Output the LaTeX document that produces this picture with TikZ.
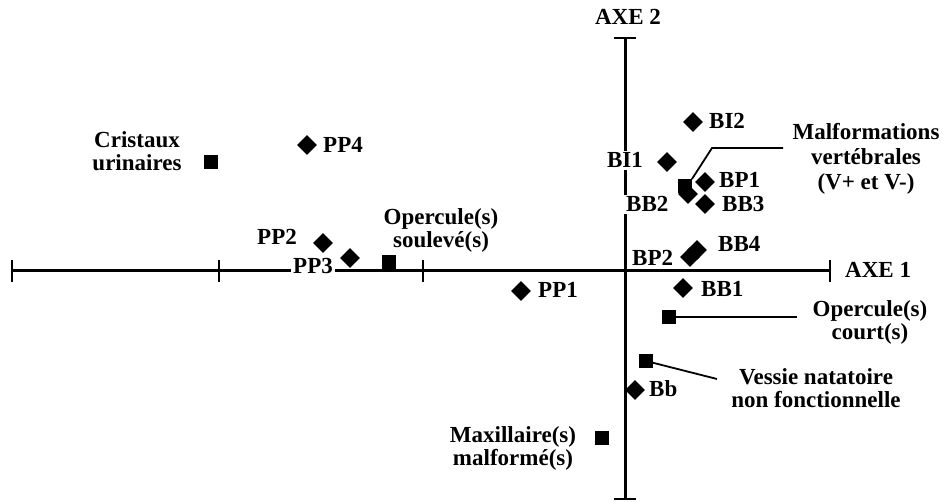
\documentclass[tikz,border=0pt]{standalone}
\usepackage{fontspec}
\setmainfont{Liberation Serif}
\usetikzlibrary{shapes.geometric}
\tikzset{
  axisline/.style={line width=3pt},
  tickline/.style={line width=2.8pt},
  callout/.style={line width=1.8pt},
  dmark/.style={diamond, fill=black, inner sep=0pt, minimum width=20pt, minimum height=20pt},
  smark/.style={rectangle, fill=black, inner sep=0pt, minimum size=13.5pt},
  lbl/.style={font=\fontsize{23}{23}\selectfont\bfseries, inner sep=1pt},
  mlbl/.style={lbl, align=center},
  wlbl/.style={lbl, fill=white, inner sep=2pt}
}
\begin{document}
\begin{tikzpicture}[x=1pt,y=-1pt]
\useasboundingbox[fill=white] (0,0) rectangle (946,502);
% axes
\coordinate (xL) at (12,271);
\coordinate (xR) at (830,271);
\coordinate (yT) at (625,38);
\coordinate (yB) at (625,499);
\coordinate (t1) at (219,271);
\coordinate (t2) at (423,271);
\draw[axisline] (xL) -- (xR);
\draw[axisline] (yT) -- (yB);
\foreach \c in {xL,xR,t1,t2} \draw[tickline] ([yshift=11pt]\c) -- ([yshift=-11pt]\c);
\foreach \c in {yT,yB} \draw[tickline] ([xshift=-11pt]\c) -- ([xshift=11pt]\c);
\node[lbl, anchor=base] (axe2) at (628,25) {AXE 2};
\node[lbl, anchor=base west] (axe1) at (844,278) {AXE 1};
% labels that cut the axes
\node[wlbl, anchor=base east] (lBI1) at (645,168) {BI1};
\node[wlbl, anchor=base west] (lBB2) at (624,212) {BB2};
\node[wlbl, anchor=base west] (lPP3) at (291,274) {PP3};
% point labels
\node[lbl, anchor=base west] (lBI2) at (708,129) {BI2};
\node[lbl, anchor=base west] (lBP1) at (718,188) {BP1};
\node[lbl, anchor=base west] (lBB3) at (721,212) {BB3};
\node[lbl, anchor=base west] (lBB4) at (717,252) {BB4};
\node[lbl, anchor=base west] (lBP2) at (631,266) {BP2};
\node[lbl, anchor=base west] (lBB1) at (700,297) {BB1};
\node[lbl, anchor=base west] (lPP1) at (537,298) {PP1};
\node[lbl, anchor=base west] (lPP4) at (322,153) {PP4};
\node[lbl, anchor=base east] (lPP2) at (298,245) {PP2};
\node[lbl, anchor=base west] (lBb) at (648,397) {Bb};
% diamonds
\node[dmark] (BI2) at (693,122) {};
\node[dmark] (BI1) at (667,162) {};
\node[dmark] (BP1) at (705,182) {};
\node[dmark] (BB3) at (705,204) {};
\node[dmark] (BB2) at (688,194) {};
\node[dmark] (BB4) at (697,250) {};
\node[dmark] (BP2) at (690,257) {};
\node[dmark] (BB1) at (683,288) {};
\node[dmark] (PP1) at (521,291) {};
\node[dmark] (PP4) at (307,145) {};
\node[dmark] (PP2) at (323,243) {};
\node[dmark] (PP3) at (350,258) {};
\node[dmark] (Bb) at (635,390) {};
% squares
\node[smark] (cristaux) at (211,162) {};
\node[smark] (soul) at (389,262) {};
\node[smark] (malf) at (685,186) {};
\node[smark] (court) at (669,317) {};
\node[smark] (vessie) at (646,361) {};
\node[smark] (maxil) at (602,438) {};
% square labels
\node[mlbl] (tcristaux) at (137,151) {Cristaux\\urinaires};
\node[mlbl] (tsoul) at (441,230) {Opercule(s)\\soulevé(s)};
\node[mlbl, font=\fontsize{23}{25}\selectfont\bfseries] (tmalf) at (866,159) {Malformations\\vertébrales\\(V+ et V-)};
\node[mlbl] (tcourt) at (870,322) {Opercule(s)\\court(s)};
\node[mlbl] (tvessie) at (816,388) {Vessie natatoire\\non fonctionnelle};
\node[mlbl] (tmaxil) at (513,448) {Maxillaire(s)\\malformé(s)};
% callouts
\coordinate (malfbend) at (712,148);
\coordinate (malfend) at (783,148);
\coordinate (courtend) at (797,317);
\coordinate (vessieend) at (717,379);
\draw[callout] (malf.north east) -- (malfbend) -- (malfend);
\draw[callout] (court.center) -- (courtend);
\draw[callout] (vessie.center) -- (vessieend);
\end{tikzpicture}
\end{document}
